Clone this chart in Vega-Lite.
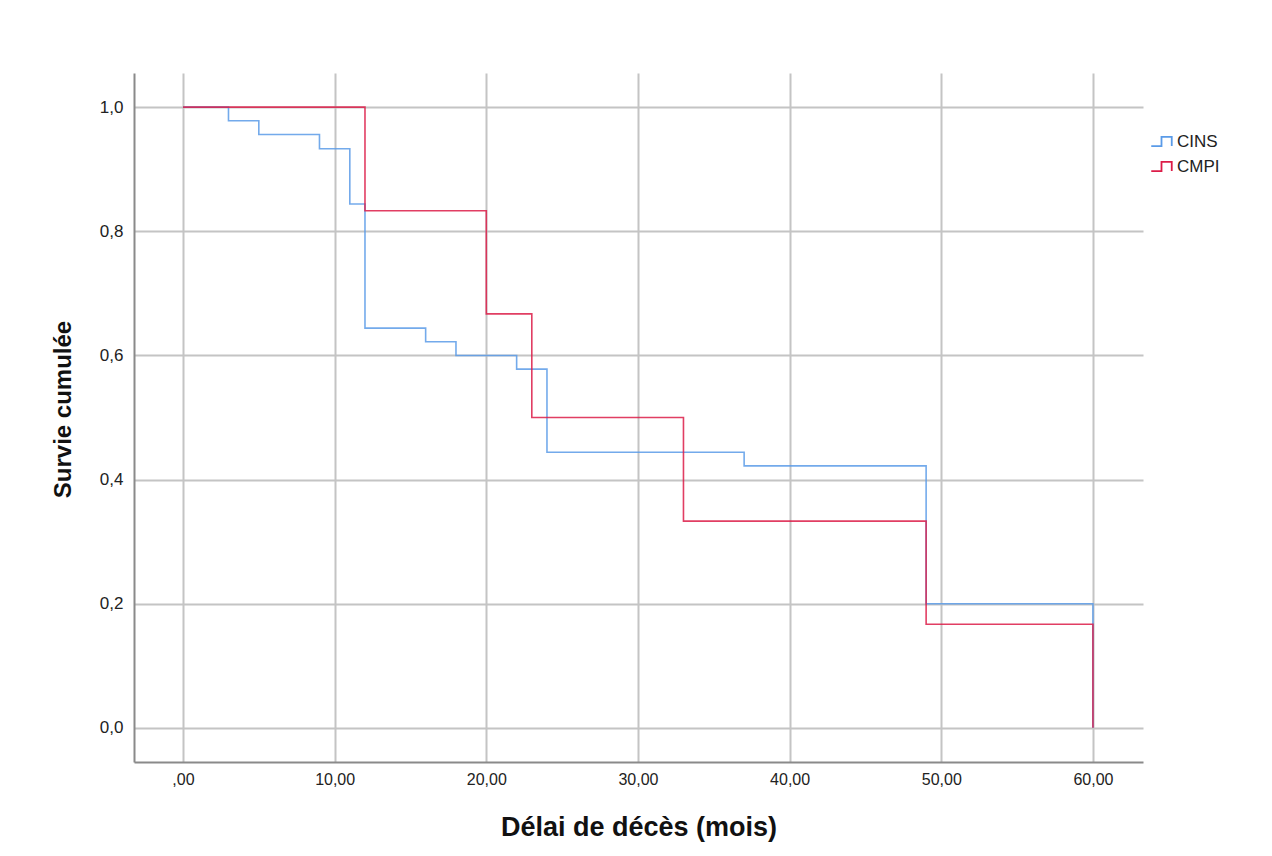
{
  "$schema": "https://vega.github.io/schema/vega-lite/v6.json",
  "autosize": "none",
  "padding": {"left": 134, "top": 73, "right": 129, "bottom": 94},
  "width": 1009,
  "height": 689,
  "background": "white",
  "config": {
    "font": "Liberation Sans",
    "view": {"stroke": null}
  },
  "data": {
    "values": [
      {"t": 0, "s": 1.0, "g": "CINS"},
      {"t": 3, "s": 0.978, "g": "CINS"},
      {"t": 5, "s": 0.956, "g": "CINS"},
      {"t": 9, "s": 0.933, "g": "CINS"},
      {"t": 11, "s": 0.844, "g": "CINS"},
      {"t": 12, "s": 0.644, "g": "CINS"},
      {"t": 16, "s": 0.622, "g": "CINS"},
      {"t": 18, "s": 0.6, "g": "CINS"},
      {"t": 22, "s": 0.578, "g": "CINS"},
      {"t": 24, "s": 0.444, "g": "CINS"},
      {"t": 37, "s": 0.422, "g": "CINS"},
      {"t": 49, "s": 0.2, "g": "CINS"},
      {"t": 60, "s": 0.0, "g": "CINS"},
      {"t": 0, "s": 1.0, "g": "CMPI"},
      {"t": 12, "s": 0.833, "g": "CMPI"},
      {"t": 20, "s": 0.667, "g": "CMPI"},
      {"t": 23, "s": 0.5, "g": "CMPI"},
      {"t": 33, "s": 0.333, "g": "CMPI"},
      {"t": 49, "s": 0.167, "g": "CMPI"},
      {"t": 60, "s": 0.0, "g": "CMPI"}
    ]
  },
  "mark": {"type": "line", "interpolate": "step-after", "strokeWidth": 1.6, "strokeOpacity": 0.85, "clip": false},
  "encoding": {
    "x": {
      "field": "t", "type": "quantitative",
      "scale": {"domain": [-3.23, 63.3], "nice": false, "zero": false},
      "axis": {
        "title": "Délai de décès (mois)",
        "titleFont": "Liberation Sans", "titleFontSize": 27, "titleFontWeight": "bold", "titleColor": "#111",
        "titlePadding": 27,
        "values": [0, 10, 20, 30, 40, 50, 60],
        "labelExpr": "datum.value == 0 ? ',00' : replace(format(datum.value, '.2f'), '.', ',')",
        "labelFontSize": 16, "labelColor": "#222", "labelPadding": 9,
        "ticks": false,
        "domainColor": "#8a8a8a", "domainWidth": 2,
        "grid": true, "gridColor": "#c4c4c4", "gridWidth": 2
      }
    },
    "y": {
      "field": "s", "type": "quantitative",
      "scale": {"domain": [-0.055, 1.055], "nice": false, "zero": false},
      "axis": {
        "title": "Survie cumulée",
        "titleFont": "Liberation Sans", "titleFontSize": 24, "titleFontWeight": "bold", "titleColor": "#111",
        "titlePadding": 24,
        "titleY": 336,
        "values": [0, 0.2, 0.4, 0.6, 0.8, 1.0],
        "labelExpr": "replace(format(datum.value, '.1f'), '.', ',')",
        "labelFontSize": 17, "labelColor": "#222", "labelPadding": 11,
        "ticks": false,
        "domainColor": "#8a8a8a", "domainWidth": 2,
        "grid": true, "gridColor": "#c4c4c4", "gridWidth": 2
      }
    },
    "color": {
      "field": "g", "type": "nominal",
      "scale": {"domain": ["CINS", "CMPI"], "range": ["#5a9be8", "#dc1c48"]},
      "legend": {
        "title": null,
        "orient": "none",
        "legendX": 1016,
        "legendY": 57,
        "symbolType": "M-1,0.45H0V-0.45H1V0.45",
        "symbolSize": 420,
        "symbolStrokeWidth": 1.8,
        "symbolFillColor": "transparent",
        "labelFontSize": 17,
        "labelColor": "#222",
        "labelOffset": 4,
        "rowPadding": 5
      }
    }
  }
}
